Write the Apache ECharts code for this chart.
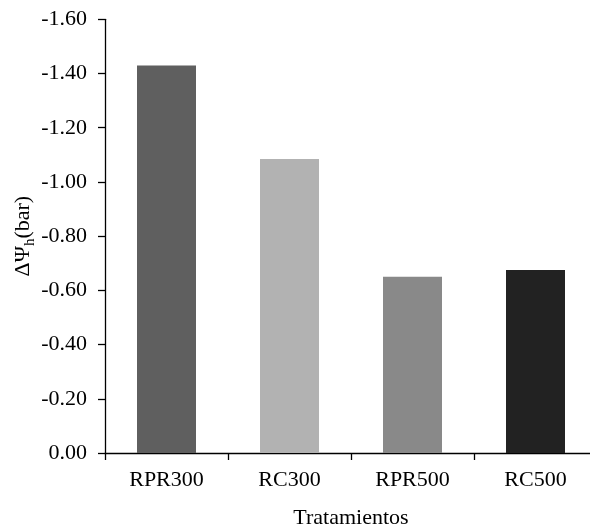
<!DOCTYPE html>
<html>
<head>
<meta charset="utf-8">
<script src="https://cdn.jsdelivr.net/npm/echarts@6/dist/echarts.min.js"></script>
<style>html,body{margin:0;padding:0;background:#fff;}#c{width:590px;height:529px;}</style>
</head>
<body>
<div id="c"></div>
<script>
const categories = ['RPR300', 'RC300', 'RPR500', 'RC500'];
const values = [-1.43, -1.085, -0.65, -0.675];
const barColors = ['#5f5f5f', '#b2b2b2', '#898989', '#222222'];
const yTicks = { min: -1.6, max: 0, interval: 0.2 };
const xTitle = 'Tratamientos';

const FONT = '"Liberation Serif", "Times New Roman", serif';
const chart = echarts.init(document.getElementById('c'), null, { renderer: 'canvas' });
chart.setOption({
  animation: false,
  backgroundColor: '#ffffff',
  grid: { left: 105, right: -7, top: 19.3, bottom: 76, containLabel: false, outerBoundsMode: 'none' },
  xAxis: {
    type: 'category',
    data: categories,
    name: xTitle,
    nameLocation: 'middle',
    nameGap: 54,
    nameMoveOverlap: false,
    nameTextStyle: { fontFamily: FONT, fontSize: 22, color: '#000' },
    axisLine: { lineStyle: { color: '#000', width: 1.3 } },
    axisTick: { show: true, alignWithLabel: false, length: 7, lineStyle: { color: '#000', width: 1.3 } },
    axisLabel: { fontFamily: FONT, fontSize: 22, color: '#000', margin: 16 },
    splitLine: { show: false }
  },
  yAxis: {
    type: 'value',
    inverse: true,
    min: yTicks.min,
    max: yTicks.max,
    interval: yTicks.interval,
    name: '{a|ΔΨ}{s|h}{a|(bar)}',
    nameLocation: 'middle',
    nameRotate: 90,
    nameGap: 71,
    nameMoveOverlap: false,
    nameTextStyle: {
      color: '#000',
      rich: {
        a: { fontFamily: FONT, fontSize: 22, color: '#000', lineHeight: 22, verticalAlign: 'top' },
        s: { fontFamily: FONT, fontSize: 15, color: '#000', lineHeight: 15, verticalAlign: 'top', padding: [11, 0, 0, 0] }
      }
    },
    axisLine: { show: true, lineStyle: { color: '#000', width: 1.3 } },
    axisTick: { show: true, inside: false, length: 7, lineStyle: { color: '#000', width: 1.3 } },
    axisLabel: {
      fontFamily: FONT, fontSize: 22, color: '#000', margin: 18,
      formatter: v => v.toFixed(2)
    },
    splitLine: { show: false }
  },
  series: [{
    type: 'bar',
    data: values.map((v, i) => ({ value: v, itemStyle: { color: barColors[i] } })),
    barWidth: 59,
    itemStyle: { borderWidth: 0 }
  }]
});
</script>
</body>
</html>
